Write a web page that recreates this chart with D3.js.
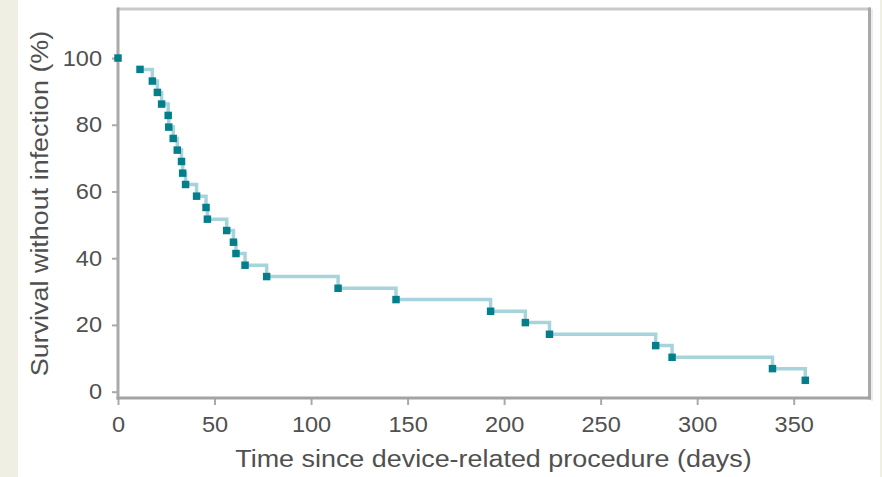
<!DOCTYPE html>
<html>
<head>
<meta charset="utf-8">
<script src="https://cdn.jsdelivr.net/npm/d3@7"></script>
<style>
  html, body { margin: 0; padding: 0; background: #ffffff; }
  svg { display: block; }
  text { font-family: "Liberation Sans", Arial, sans-serif; }
</style>
</head>
<body>
<svg id="chart" width="882" height="477"></svg>
<script>
// ---- data ----
const days = [0, 11.4, 17.8, 20.4, 22.6, 26.0, 26.3, 28.6, 30.7, 32.9, 33.5, 35.0, 40.7, 45.6, 46.3,
              56.3, 59.8, 61.1, 65.8, 77.0, 114.0, 144.0, 193.0, 211.0, 223.5, 278.5, 287.0, 339.0, 356.0];
const survival = [100, 96.6, 93.1, 89.7, 86.2, 82.8, 79.3, 75.9, 72.4, 69.0, 65.5, 62.1, 58.6, 55.2, 51.7,
              48.3, 44.8, 41.4, 37.9, 34.5, 31.0, 27.6, 24.1, 20.7, 17.2, 13.8, 10.3, 6.9, 3.4];
const xTicks = [0, 50, 100, 150, 200, 250, 300, 350];
const yTicks = [0, 20, 40, 60, 80, 100];
const xTitle = "Time since device-related procedure (days)";
const yTitle = "Survival without infection (%)";

// ---- layout ----
const W = 882, H = 477;
const plot = { left: 118, right: 869, top: 9, bottom: 398 };
const svg = d3.select("#chart");

// side strips
svg.append("rect").attr("x", 0).attr("y", 0).attr("width", 18).attr("height", H).attr("fill", "#efefe3");
svg.append("rect").attr("x", 880).attr("y", 0).attr("width", 2).attr("height", H).attr("fill", "#efefe3");

const x = d3.scaleLinear().domain([0, 389]).range([plot.left, plot.right]);
const y = d3.scaleLinear().domain([-1.9, 114.7]).range([plot.bottom, plot.top]);

function widen(sel, k) {
  sel.each(function () {
    const w = this.getComputedTextLength();
    d3.select(this).attr("textLength", w * k).attr("lengthAdjust", "spacingAndGlyphs");
  });
}

// frame
svg.append("line").attr("x1", plot.left).attr("x2", plot.right + 2)
  .attr("y1", plot.top).attr("y2", plot.top).attr("stroke", "#c9c9c9").attr("stroke-width", 3);
svg.append("line").attr("x1", plot.right + 0.5).attr("x2", plot.right + 0.5)
  .attr("y1", plot.top - 1.5).attr("y2", plot.bottom + 1.5).attr("stroke", "#a9a9a9").attr("stroke-width", 3);
svg.append("line").attr("x1", plot.right + 3).attr("x2", plot.right + 3)
  .attr("y1", plot.top).attr("y2", plot.bottom + 3).attr("stroke", "#ececec").attr("stroke-width", 2);

// axes
const yAxis = svg.append("g").attr("transform", `translate(${plot.left},0)`)
  .call(d3.axisLeft(y).tickValues(yTicks).tickSize(6).tickPadding(10));
const xAxis = svg.append("g").attr("transform", `translate(0,${plot.bottom})`)
  .call(d3.axisBottom(x).tickValues(xTicks).tickSize(7).tickPadding(11));
[yAxis, xAxis].forEach(g => {
  g.select(".domain").remove();
  g.selectAll(".tick line").attr("stroke", "#a9a9a9").attr("stroke-width", 2);
  g.selectAll(".tick text").attr("fill", "#505050").style("font-size", "22px")
    .style("font-family", "'Liberation Sans', Arial, sans-serif");
});
widen(yAxis.selectAll(".tick text"), 1.07);
widen(xAxis.selectAll(".tick text"), 1.07);

svg.append("line").attr("x1", plot.left).attr("x2", plot.left)
  .attr("y1", plot.top - 1.5).attr("y2", plot.bottom + 1.5).attr("stroke", "#aaaaaa").attr("stroke-width", 3);
svg.append("line").attr("x1", plot.left - 1.5).attr("x2", plot.right + 2)
  .attr("y1", plot.bottom).attr("y2", plot.bottom).attr("stroke", "#a3a3a3").attr("stroke-width", 3);

// titles
const xt = svg.append("text").attr("x", (plot.left + plot.right) / 2).attr("y", 467)
  .attr("text-anchor", "middle").attr("fill", "#505050").style("font-size", "23px").text(xTitle);
widen(xt, 1.17);
const yt = svg.append("text")
  .attr("transform", `translate(48,${(plot.top + plot.bottom) / 2}) rotate(-90)`)
  .attr("text-anchor", "middle").attr("fill", "#505050").style("font-size", "23px").text(yTitle);
widen(yt, 1.17);

// step line (drawn from first event onward)
const pts = days.map((d, i) => [d, survival[i]]);
const line = d3.line().x(d => x(d[0])).y(d => y(d[1])).curve(d3.curveStepAfter);
svg.append("path").datum(pts.slice(1)).attr("d", line)
  .attr("fill", "none").attr("stroke", "#a6d4da").attr("stroke-width", 3.5);

// markers
svg.append("g").selectAll("path").data(pts).join("path")
  .attr("transform", d => `translate(${x(d[0])},${y(d[1])})`)
  .attr("d", d3.symbol().type(d3.symbolSquare).size(56))
  .attr("fill", "#037f8b");
</script>
</body>
</html>
